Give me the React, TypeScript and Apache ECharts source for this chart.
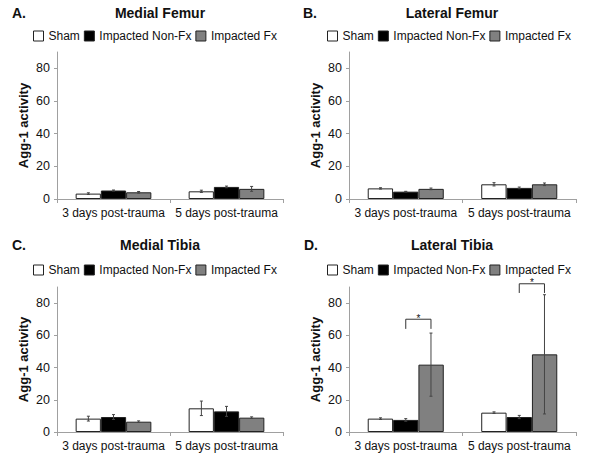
import React, { useEffect, useRef } from 'react';
import * as echarts from 'echarts';

const categories = ['3 days post-trauma', '5 days post-trauma'];
const seriesNames = ['Sham', 'Impacted Non-Fx', 'Impacted Fx'];
const panelTitles = ['Medial Femur', 'Lateral Femur', 'Medial Tibia', 'Lateral Tibia'];
const panelLetters = ['A.', 'B.', 'C.', 'D.'];
const yAxisName = 'Agg-1 activity';

// A. Medial Femur
const mfSham = [3.3, 4.7];
const mfNonFx = [5.2, 7.4];
const mfFx = [4.1, 6.2];
const mfShamErr = [0.5, 0.7];
const mfNonFxErr = [0.3, 0.5];
const mfFxErr = [0.5, 1.5];

// B. Lateral Femur
const lfSham = [6.5, 9.0];
const lfNonFx = [4.5, 6.8];
const lfFx = [6.2, 9.0];
const lfShamErr = [0.4, 1.0];
const lfNonFxErr = [0.2, 0.5];
const lfFxErr = [0.5, 0.8];

// C. Medial Tibia
const mtSham = [8.3, 14.7];
const mtNonFx = [9.3, 12.8];
const mtFx = [6.4, 8.9];
const mtShamErr = [1.5, 4.5];
const mtNonFxErr = [1.5, 3.1];
const mtFxErr = [0.5, 0.5];

// D. Lateral Tibia
const ltSham = [8.3, 12.0];
const ltNonFx = [7.5, 9.3];
const ltFx = [41.8, 48.2];
const ltShamErr = [0.5, 0.5];
const ltNonFxErr = [0.8, 1.0];
const ltFxErr = [19.6, 37.0];

// significance brackets (Lateral Tibia): top level and leg end
const bracketTop = [70, 92];
const bracketLeg = [64, 86.3];
const bracketMark = ['*', '*'];

const panelValues = [
  [mfSham, mfNonFx, mfFx],
  [lfSham, lfNonFx, lfFx],
  [mtSham, mtNonFx, mtFx],
  [ltSham, ltNonFx, ltFx],
];
const panelErrors = [
  [mfShamErr, mfNonFxErr, mfFxErr],
  [lfShamErr, lfNonFxErr, lfFxErr],
  [mtShamErr, mtNonFxErr, mtFxErr],
  [ltShamErr, ltNonFxErr, ltFxErr],
];

const FONT = '"Liberation Sans", Arial, sans-serif';
const TEXT = '#111';
const AXIS = '#a0a0a0';
const barColors = ['#ffffff', '#000000', '#808080'];

const gridRects = [
  { left: 57, top: 52, width: 226, height: 147 },
  { left: 349, top: 52, width: 227, height: 147 },
  { left: 57, top: 287, width: 226, height: 145 },
  { left: 349, top: 287, width: 227, height: 145 },
];
const titlePos = [
  { x: 160, y: 13, lx: 12 },
  { x: 452, y: 13, lx: 303 },
  { x: 160, y: 245, lx: 12 },
  { x: 452, y: 245, lx: 304 },
];
const legendPos = [
  { left: 33, top: 30 },
  { left: 327, top: 30 },
  { left: 33, top: 264 },
  { left: 327, top: 264 },
];

function errorRender(offset: number) {
  return (params: any, api: any) => {
    const cat = api.value(0);
    const val = api.value(1);
    const err = api.value(2);
    const hi = api.coord([cat, val + err]);
    const lo = api.coord([cat, val - err]);
    const catW = api.size([1, 0])[0];
    const x = hi[0] + (offset * catW * 2) / 9;
    const st = { stroke: '#444', lineWidth: 1 };
    return {
      type: 'group',
      children: [
        { type: 'line', shape: { x1: x, y1: hi[1], x2: x, y2: lo[1] }, style: st },
        { type: 'line', shape: { x1: x - 1.5, y1: hi[1], x2: x + 1.5, y2: hi[1] }, style: st },
        { type: 'line', shape: { x1: x - 1.5, y1: lo[1], x2: x + 1.5, y2: lo[1] }, style: st },
      ],
    };
  };
}

function bracketRender(params: any, api: any) {
  const cat = api.value(0);
  const top = api.value(1);
  const leg = api.value(2);
  const pTop = api.coord([cat, top]);
  const pLeg = api.coord([cat, leg]);
  const catW = api.size([1, 0])[0];
  const xl = pTop[0];
  const xr = pTop[0] + (catW * 2) / 9;
  return {
    type: 'group',
    children: [
      {
        type: 'polyline',
        shape: { points: [[xl, pLeg[1]], [xl, pTop[1]], [xr, pTop[1]], [xr, pLeg[1]]] },
        style: { stroke: '#333', lineWidth: 1, fill: null },
      },
      {
        type: 'text',
        x: (xl + xr) / 2,
        y: pTop[1] - 5.8,
        style: {
          text: bracketMark[params.dataIndex],
          fill: TEXT,
          font: `10px ${FONT}`,
          lineHeight: 10,
          textAlign: 'center',
          textVerticalAlign: 'top',
        },
      },
    ],
  };
}

export default function App() {
  const ref = useRef<HTMLDivElement>(null);

  useEffect(() => {
    if (!ref.current) return;
    const chart = echarts.init(ref.current, null, { renderer: 'svg', width: 600, height: 467 });

    const grid = gridRects.map((g) => ({ ...g, containLabel: false, outerBoundsMode: 'none' }));
    const xAxis = gridRects.map((_, i) => ({
      type: 'category',
      gridIndex: i,
      data: categories,
      axisLine: { show: true, lineStyle: { color: AXIS, width: 1 } },
      axisTick: { show: true, alignWithLabel: false, length: 4, lineStyle: { color: AXIS } },
      axisLabel: {
        color: TEXT,
        fontSize: 12,
        fontFamily: FONT,
        margin: 8,
        interval: 0,
        hideOverlap: false,
      },
      splitLine: { show: false },
    }));
    const yAxis = gridRects.map((_, i) => ({
      type: 'value',
      gridIndex: i,
      min: 0,
      max: 90,
      interval: 20,
      name: yAxisName,
      nameLocation: 'middle',
      nameRotate: 90,
      nameGap: 27,
      nameTextStyle: { color: TEXT, fontSize: 13, fontWeight: 'bold', fontFamily: FONT },
      axisLine: { show: true, lineStyle: { color: AXIS, width: 1 } },
      axisTick: { show: true, length: 3, lineStyle: { color: AXIS } },
      axisLabel: { color: TEXT, fontSize: 12.5, fontFamily: FONT, margin: 7, showMaxLabel: false },
      splitLine: { show: false },
    }));

    const series: any[] = [];
    panelValues.forEach((vals, p) => {
      vals.forEach((v, s) => {
        series.push({
          type: 'bar',
          name: seriesNames[s],
          xAxisIndex: p,
          yAxisIndex: p,
          data: v,
          barCategoryGap: '33%',
          barGap: '0%',
          itemStyle: { color: barColors[s], borderColor: '#222', borderWidth: 1 },
          emphasis: { disabled: true },
          z: 2,
        });
      });
      vals.forEach((v, s) => {
        const errs = panelErrors[p][s];
        series.push({
          type: 'custom',
          xAxisIndex: p,
          yAxisIndex: p,
          renderItem: errorRender(s - 1),
          data: v.map((val, c) => [c, val, errs[c]]),
          encode: { x: 0, y: 1 },
          clip: false,
          z: 5,
        });
      });
    });
    series.push({
      type: 'custom',
      xAxisIndex: 3,
      yAxisIndex: 3,
      renderItem: bracketRender,
      data: bracketTop.map((t, c) => [c, t, bracketLeg[c]]),
      encode: { x: 0, y: 1 },
      clip: false,
      z: 6,
    });

    const legend = legendPos.map((lp) => ({
      left: lp.left,
      top: lp.top,
      orient: 'horizontal',
      padding: 0,
      itemWidth: 10,
      itemHeight: 10,
      itemGap: 4,
      selectedMode: false,
      textStyle: { color: TEXT, fontSize: 12, fontFamily: FONT, lineHeight: 12 },
      data: seriesNames.map((n, s) => ({
        name: n,
        icon: 'rect',
        itemStyle: { color: barColors[s], borderColor: '#222', borderWidth: 1 },
      })),
    }));

    const graphics: any[] = [];
    panelTitles.forEach((t, i) => {
      graphics.push({
        type: 'text',
        x: titlePos[i].x,
        y: titlePos[i].y,
        style: {
          text: t,
          fill: TEXT,
          font: `bold 14px ${FONT}`,
          textAlign: 'center',
          textVerticalAlign: 'middle',
        },
      });
      graphics.push({
        type: 'text',
        x: titlePos[i].lx,
        y: titlePos[i].y,
        style: {
          text: panelLetters[i],
          fill: TEXT,
          font: `bold 14px ${FONT}`,
          textAlign: 'left',
          textVerticalAlign: 'middle',
        },
      });
    });

    chart.setOption({
      animation: false,
      backgroundColor: '#ffffff',
      grid,
      xAxis,
      yAxis,
      legend,
      series,
      graphic: graphics,
    });

    return () => {
      chart.dispose();
    };
  }, []);

  return (
    <div
      ref={ref}
      style={{ position: 'absolute', left: 0, top: 0, width: 600, height: 467, background: '#fff' }}
    />
  );
}
